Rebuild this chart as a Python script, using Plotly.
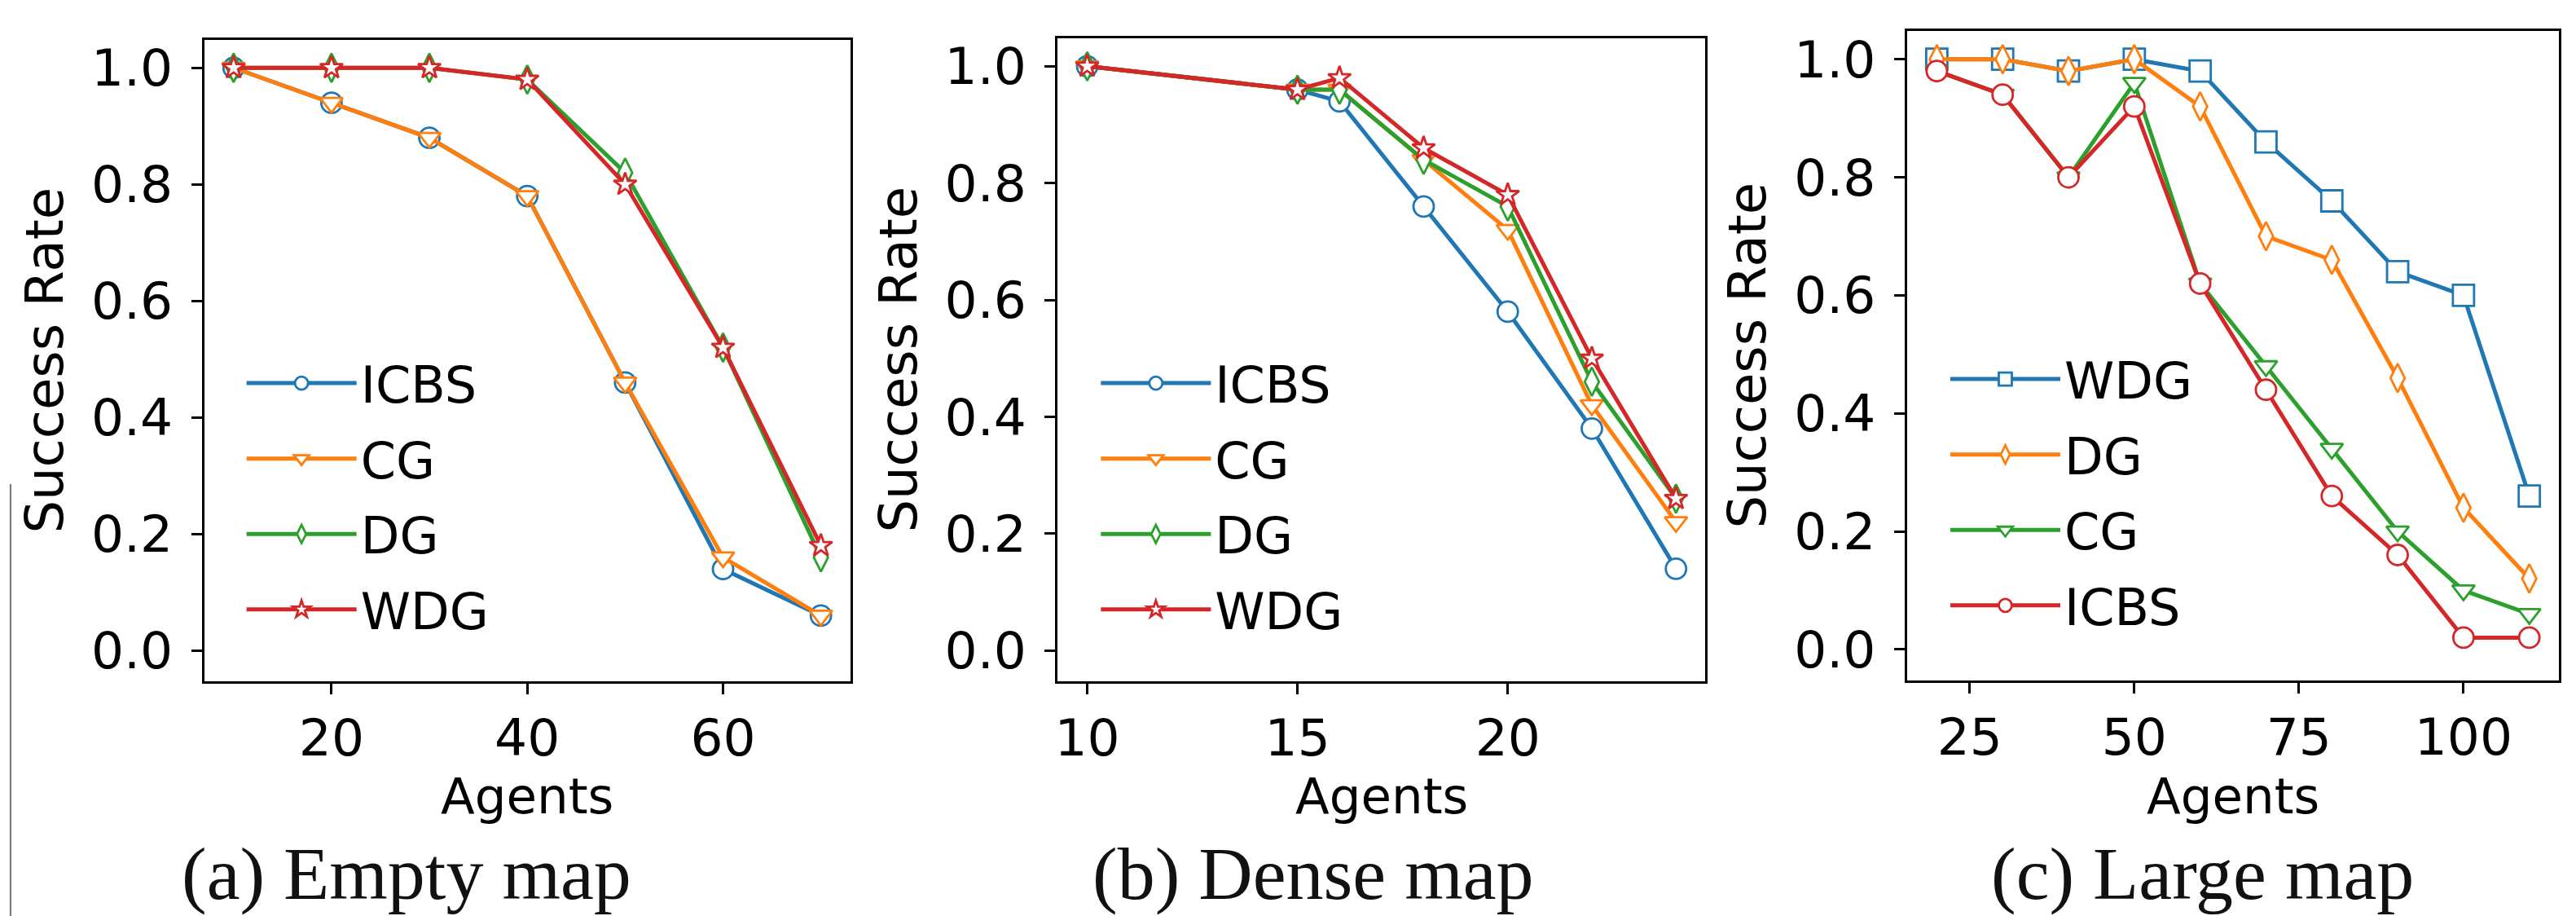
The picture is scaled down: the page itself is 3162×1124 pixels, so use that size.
import plotly.graph_objects as go

W, H = 3162, 1124

# ---------------- data ----------------
empty_agents = [10, 20, 30, 40, 50, 60, 70]
empty_icbs = [1.0, 0.94, 0.88, 0.78, 0.46, 0.14, 0.06]
empty_cg = [1.0, 0.94, 0.88, 0.78, 0.46, 0.16, 0.06]
empty_dg = [1.0, 1.0, 1.0, 0.98, 0.82, 0.52, 0.16]
empty_wdg = [1.0, 1.0, 1.0, 0.98, 0.80, 0.52, 0.18]

dense_agents = [10, 15, 16, 18, 20, 22, 24]
dense_icbs = [1.0, 0.96, 0.94, 0.76, 0.58, 0.38, 0.14]
dense_cg = [1.0, 0.96, 0.96, 0.84, 0.72, 0.42, 0.22]
dense_dg = [1.0, 0.96, 0.96, 0.84, 0.76, 0.46, 0.26]
dense_wdg = [1.0, 0.96, 0.98, 0.86, 0.78, 0.50, 0.26]

large_agents = [20, 30, 40, 50, 60, 70, 80, 90, 100, 110]
large_wdg = [1.0, 1.0, 0.98, 1.0, 0.98, 0.86, 0.76, 0.64, 0.60, 0.26]
large_dg = [1.0, 1.0, 0.98, 1.0, 0.92, 0.70, 0.66, 0.46, 0.24, 0.12]
large_cg = [0.98, 0.94, 0.80, 0.96, 0.62, 0.48, 0.34, 0.20, 0.10, 0.06]
large_icbs = [0.98, 0.94, 0.80, 0.92, 0.62, 0.44, 0.26, 0.16, 0.02, 0.02]

y_ticks = [0.0, 0.2, 0.4, 0.6, 0.8, 1.0]
y_ticklabels = ["0.0", "0.2", "0.4", "0.6", "0.8", "1.0"]
empty_xticks = [20, 40, 60]
dense_xticks = [10, 15, 20]
large_xticks = [25, 50, 75, 100]
captions = ["(a) Empty map", "(b) Dense map", "(c) Large map"]
x_title = "Agents"
y_title = "Success Rate"

C0, C1, C2, C3 = "#1f77b4", "#ff7f0e", "#2ca02c", "#d62728"
SANS = "DejaVu Sans"

MARK = {
    "circle": ("circle", 25),
    "tri": ("triangle-down", 24),
    "diamond": ("diamond-tall", 25),
    "star": ("star", 21),
    "square": ("square", 26),
}

panels = [
    dict(x=empty_agents, xr=[7, 73], xt=empty_xticks,
         series=[("ICBS", empty_icbs, C0, "circle"), ("CG", empty_cg, C1, "tri"),
                 ("DG", empty_dg, C2, "diamond"), ("WDG", empty_wdg, C3, "star")],
         box=(239, 1033, 39, 827), leg=(286, 414), cap=488),
    dict(x=dense_agents, xr=[9.3, 24.7], xt=dense_xticks,
         series=[("ICBS", dense_icbs, C0, "circle"), ("CG", dense_cg, C1, "tri"),
                 ("DG", dense_dg, C2, "diamond"), ("WDG", dense_wdg, C3, "star")],
         box=(1288, 2084, 37, 827), leg=(1336, 414), cap=1602),
    dict(x=large_agents, xr=[15.5, 114.5], xt=large_xticks,
         series=[("WDG", large_wdg, C0, "square"), ("DG", large_dg, C1, "diamond"),
                 ("CG", large_cg, C2, "tri"), ("ICBS", large_icbs, C3, "circle")],
         box=(2332, 3133, 28, 826), leg=(2380, 409), cap=2695),
]

fig = go.Figure()
layout = {}
annotations = []
for i, p in enumerate(panels, start=1):
    sfx = "" if i == 1 else str(i)
    leg = "legend" if i == 1 else f"legend{i}"
    for name, ys, col, mk in p["series"]:
        sym, size = MARK[mk]
        fig.add_trace(go.Scatter(
            x=p["x"], y=ys, name=name, mode="lines+markers",
            xaxis="x" + sfx, yaxis="y" + sfx, legend=leg, legendgroup=f"{i}{name}",
            line=dict(color=col, width=5),
            marker=dict(symbol=sym, size=size, color="white",
                        line=dict(color=col, width=2.8)),
        ))
    x0, x1, y0, y1 = p["box"]
    common = dict(showline=True, mirror=True, linecolor="black", linewidth=3,
                  ticks="outside", ticklen=13, tickwidth=3, tickcolor="black",
                  showgrid=False, zeroline=False,
                  tickfont=dict(family=SANS, size=63, color="black"))
    layout["xaxis" + sfx] = dict(
        common, domain=[x0 / W, x1 / W], range=p["xr"], tickvals=p["xt"],
        anchor="y" + sfx, ticklabelstandoff=0)
    layout["yaxis" + sfx] = dict(
        common, domain=[1 - y1 / H, 1 - y0 / H], range=[-0.052, 1.048],
        tickvals=y_ticks, ticktext=y_ticklabels, anchor="x" + sfx, ticklabelstandoff=10,
        title=dict(text=y_title, font=dict(family=SANS, size=64, color="black"), standoff=14))
    lx, ly = p["leg"]
    layout[leg] = dict(x=lx / W, y=1 - ly / H, xanchor="left", yanchor="top",
                       bgcolor="rgba(0,0,0,0)", borderwidth=0, itemwidth=135,
                       traceorder="grouped", tracegroupgap=9,
                       font=dict(family=SANS, size=62, color="black"))
    # x-axis title
    annotations.append(dict(
        text=x_title, x=(x0 + x1) / 2 / W, y=1 - 968 / H, xref="paper", yref="paper",
        xanchor="center", yanchor="middle", showarrow=False,
        font=dict(family=SANS, size=61, color="black")))
    # panel caption
    annotations.append(dict(
        text=captions[i - 1], x=p["cap"] / W, y=1 - 1064 / H, xref="paper", yref="paper",
        xanchor="center", yanchor="middle", showarrow=False,
        font=dict(family="Liberation Serif, Times New Roman, serif", size=92, color="#111")))

fig.update_layout(
    width=W, height=H, margin=dict(l=0, r=0, t=0, b=0),
    paper_bgcolor="white", plot_bgcolor="white",
    showlegend=True, annotations=annotations,
    shapes=[dict(type="line", xref="paper", yref="paper", x0=0.0003, x1=0.0003,
                 y0=1 - 1120 / H, y1=1 - 585 / H, line=dict(color="#777", width=2))],
    **layout,
)

fig.write_html("out.html")
